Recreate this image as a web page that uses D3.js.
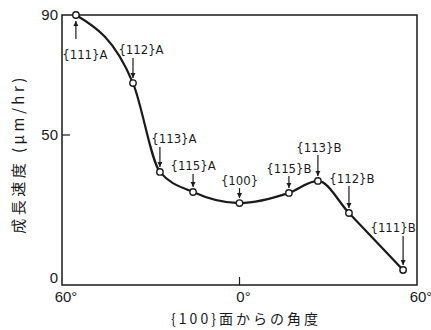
<!DOCTYPE html>
<meta charset="utf-8" />
<script src="https://d3js.org/d3.v7.min.js"></script>
<style>
	body { margin: 0; background: #fff; }
</style>
<div id="chart"></div>
<script>
	// data
	var angles = [-55.3, -36, -26.9, -15.7, 0, 16.7, 26.5, 37, 55.3];
	var rates = [90, 67.3, 37.7, 31, 27.3, 30.7, 34.7, 24, 5];
	var planes = ['{111}A', '{112}A', '{113}A', '{115}A', '{100}', '{115}B', '{113}B', '{112}B', '{111}B'];
	var xTicks = [-60, 0, 60];
	var xTickLabels = ['60°', '0°', '60°'];
	var yTicks = [0, 50, 90];

	// label placement (dx, dy of text baseline, arrow start/end relative to point)
	var labelPos = [
		{ dx: 9, dy: 44, a0: 24, a1: 6 },
		{ dx: 8, dy: -29, a0: -25, a1: -5 },
		{ dx: 14, dy: -29, a0: -25, a1: -5 },
		{ dx: 0, dy: -22, a0: -18, a1: -5 },
		{ dx: 0, dy: -18, a0: -15, a1: -5 },
		{ dx: 0, dy: -20, a0: -17, a1: -5 },
		{ dx: 1, dy: -29, a0: -26, a1: -5 },
		{ dx: 3, dy: -30, a0: -27, a1: -5 },
		{ dx: -10, dy: -38, a0: -34, a1: -5 }
	];

	var width = 431,
		height = 330;
	var mLeft = 62,
		mTop = 15,
		mRight = 417,
		mBottom = 285;

	var svg = d3
		.select('#chart')
		.append('svg')
		.attr('width', width)
		.attr('height', height);

	var x = d3.scaleLinear().domain([-60, 60]).range([mLeft, mRight]);
	var y = d3.scaleLinear().domain([0, 90]).range([mBottom, mTop]);

	var font = '"Liberation Sans", "DejaVu Sans", sans-serif';
	var ink = '#1a1a1a';

	// frame
	svg
		.append('rect')
		.attr('x', mLeft)
		.attr('y', mTop)
		.attr('width', mRight - mLeft)
		.attr('height', mBottom - mTop)
		.attr('fill', 'none')
		.attr('stroke', ink)
		.attr('stroke-width', 1.5);

	// y ticks (inside) and labels
	svg
		.append('g')
		.selectAll('line')
		.data([50])
		.enter()
		.append('line')
		.attr('x1', mLeft)
		.attr('x2', mLeft + 8)
		.attr('y1', function (d) { return y(d); })
		.attr('y2', function (d) { return y(d); })
		.attr('stroke', ink)
		.attr('stroke-width', 1.2);

	svg
		.append('g')
		.selectAll('text')
		.data(yTicks)
		.enter()
		.append('text')
		.attr('x', mLeft - 4)
		.attr('y', function (d) { return d === 0 ? y(d) - 2 : y(d) + 5; })
		.attr('text-anchor', 'end')
		.style('font-family', font)
		.style('font-size', '15px')
		.attr('fill', ink)
		.text(function (d) { return d; });

	// x ticks and labels
	svg
		.append('line')
		.attr('x1', x(0))
		.attr('x2', x(0))
		.attr('y1', mBottom)
		.attr('y2', mBottom - 8)
		.attr('stroke', ink)
		.attr('stroke-width', 1.2);

	svg
		.append('g')
		.selectAll('text')
		.data(xTicks)
		.enter()
		.append('text')
		.attr('x', function (d) { return x(d) + 4; })
		.attr('y', mBottom + 17)
		.attr('text-anchor', 'middle')
		.style('font-family', font)
		.style('font-size', '15px')
		.attr('fill', ink)
		.text(function (d, i) { return xTickLabels[i]; });

	// axis titles
	svg
		.append('text')
		.attr('transform', 'translate(24,154)rotate(-90)')
		.attr('text-anchor', 'middle')
		.style('font-family', '"Noto Sans CJK JP", sans-serif')
		.style('font-size', '15px')
		.style('letter-spacing', '3.5px')
		.attr('fill', ink)
		.text('成長速度 (μm/hr)');

	svg
		.append('text')
		.attr('x', 246)
		.attr('y', 324)
		.attr('text-anchor', 'middle')
		.style('font-family', '"Noto Sans CJK JP", sans-serif')
		.style('font-size', '14px')
		.style('letter-spacing', '3px')
		.attr('fill', ink)
		.text('{100}面からの角度');

	// curve
	var pts = angles.map(function (a, i) { return [a, rates[i]]; });
	var line = d3
		.line()
		.x(function (d) { return x(d[0]); })
		.y(function (d) { return y(d[1]); })
		.curve(d3.curveMonotoneX);

	svg
		.append('path')
		.datum(pts)
		.attr('d', line)
		.attr('fill', 'none')
		.attr('stroke', ink)
		.attr('stroke-width', 2.2);

	// arrows
	svg
		.append('defs')
		.append('marker')
		.attr('id', 'arr')
		.attr('viewBox', '0 0 10 10')
		.attr('refX', 10)
		.attr('refY', 5)
		.attr('markerWidth', 5)
		.attr('markerHeight', 6)
		.attr('markerUnits', 'userSpaceOnUse')
		.attr('orient', 'auto')
		.append('path')
		.attr('d', 'M0,0L10,5L0,10z')
		.attr('fill', ink);

	svg
		.append('g')
		.selectAll('line')
		.data(pts)
		.enter()
		.append('line')
		.attr('x1', function (d) { return x(d[0]); })
		.attr('x2', function (d) { return x(d[0]); })
		.attr('y1', function (d, i) { return y(d[1]) + labelPos[i].a0; })
		.attr('y2', function (d, i) { return y(d[1]) + labelPos[i].a1; })
		.attr('stroke', ink)
		.attr('stroke-width', 1.2)
		.attr('marker-end', 'url(#arr)');

	// points
	svg
		.append('g')
		.selectAll('circle')
		.data(pts)
		.enter()
		.append('circle')
		.attr('cx', function (d) { return x(d[0]); })
		.attr('cy', function (d) { return y(d[1]); })
		.attr('r', 3.2)
		.attr('fill', '#fff')
		.attr('stroke', ink)
		.attr('stroke-width', 1.4);

	// plane labels
	svg
		.append('g')
		.selectAll('text')
		.data(pts)
		.enter()
		.append('text')
		.attr('x', function (d, i) { return x(d[0]) + labelPos[i].dx; })
		.attr('y', function (d, i) { return y(d[1]) + labelPos[i].dy; })
		.attr('text-anchor', 'middle')
		.style('font-family', '"DejaVu Sans Condensed", "Liberation Sans", sans-serif')
		.style('font-size', '13px')
		.attr('fill', ink)
		.text(function (d, i) { return planes[i]; });
</script>
